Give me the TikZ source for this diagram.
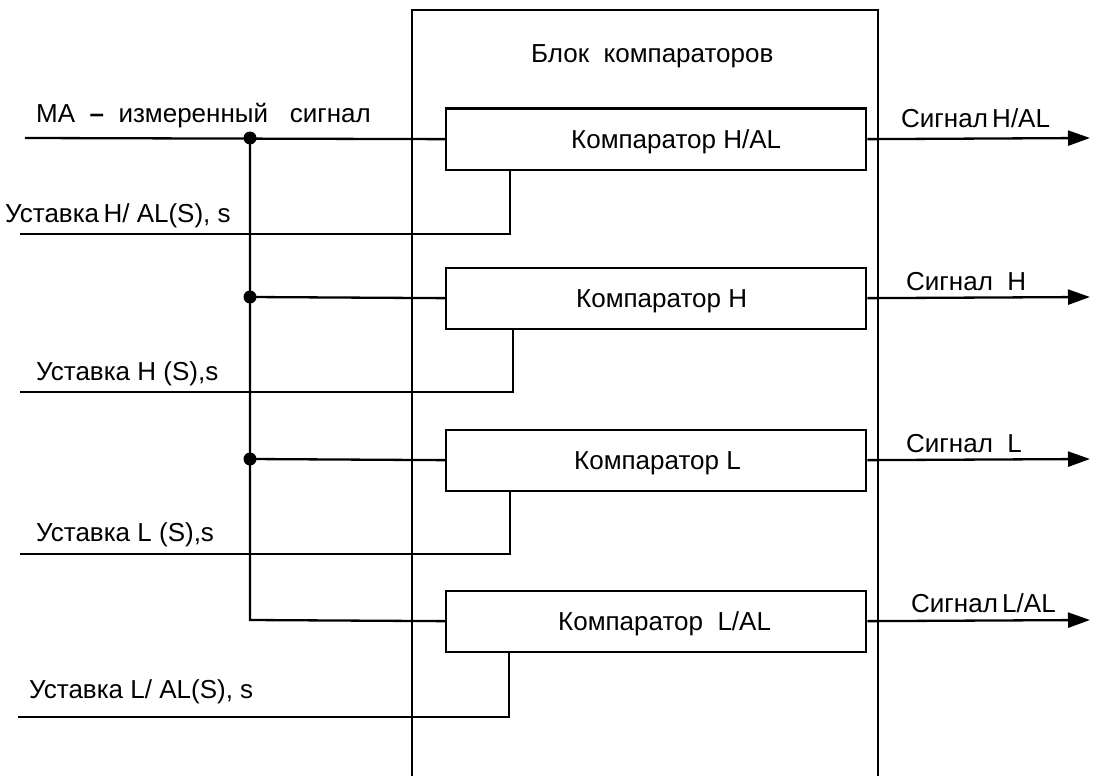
\documentclass[tikz,border=0pt]{standalone}
\usepackage{fontspec}
\setmainfont{Liberation Sans}
\usetikzlibrary{arrows.meta}
\begin{document}
\begin{tikzpicture}[x=1pt,y=-1pt, line width=2.3pt,
  comp/.style={draw, minimum width=420pt, minimum height=61pt, anchor=north west, inner sep=0pt},
  lbl/.style={anchor=base west, inner sep=0pt, font=\fontsize{26}{28}\selectfont},
  dot/.style={circle, fill, inner sep=0pt, minimum size=13pt},
  outarrow/.style={-{Triangle[length=22pt,width=15pt]}}]
\useasboundingbox (0,0) rectangle (1104,776);
% outer block
\draw (412,776) -- (412,10) -- (878,10) -- (878,776);
\node[lbl] (title) at (530,63) {Блок\ \ компараторов};
% comparators
\node[comp] (c1) at (445,107.5) {};
\node[comp] (c2) at (445,266.5) {};
\node[comp] (c3) at (445,428.5) {};
\node[comp] (c4) at (445,589.5) {};
\node[lbl] (t1) at (570,148) {Компаратор\ H/AL};
\node[lbl] (t2) at (575,307) {Компаратор H};
\node[lbl] (t3) at (573,469) {Компаратор L};
\node[lbl] (t4) at (557,630) {Компаратор\ \ L/AL};
% measured signal and bus
\coordinate (in) at (25,138);
\node[dot] (d1) at (250,138) {};
\node[dot] (d2) at (250,297) {};
\node[dot] (d3) at (250,459) {};
\coordinate (b4) at (250,620);
\draw (in) -- (c1.west);
\draw (d1.center) -- (b4) -- (c4.west);
\draw (d2.center) -- (c2.west);
\draw (d3.center) -- (c3.west);
\node[lbl] (lin) at (35,122) {MA\ \ \textbf{--}\ \ измеренный\ \ \ сигнал};
% setpoints
\coordinate (s1) at (20,234);
\coordinate (s2) at (20,392);
\coordinate (s3) at (20,554);
\coordinate (s4) at (18,717);
\draw (s1) -| ([xshift=65pt]c1.south west);
\draw (s2) -| ([xshift=68pt]c2.south west);
\draw (s3) -| ([xshift=65pt]c3.south west);
\draw (s4) -| ([xshift=64pt]c4.south west);
\node[lbl] (ls1) at (4,222) {Уставка\,H/ AL(S), s};
\node[lbl] (ls2) at (35,380) {Уставка H (S),s};
\node[lbl] (ls3) at (35,541) {Уставка L (S),s};
\node[lbl] (ls4) at (28,698) {Уставка L/ AL(S), s};
% outputs
\coordinate (o1) at (1090,138);
\coordinate (o2) at (1090,297);
\coordinate (o3) at (1090,459);
\coordinate (o4) at (1090,620);
\draw[outarrow] (c1.east) -- (o1);
\draw[outarrow] (c2.east) -- (o2);
\draw[outarrow] (c3.east) -- (o3);
\draw[outarrow] (c4.east) -- (o4);
\node[lbl] (lo1) at (900,128) {Сигнал\,H/AL};
\node[lbl] (lo2) at (905,290) {Сигнал\ \ H};
\node[lbl] (lo3) at (905,452) {Сигнал\ \ L};
\node[lbl] (lo4) at (910,612) {Сигнал\,L/AL};
\end{tikzpicture}
\end{document}
